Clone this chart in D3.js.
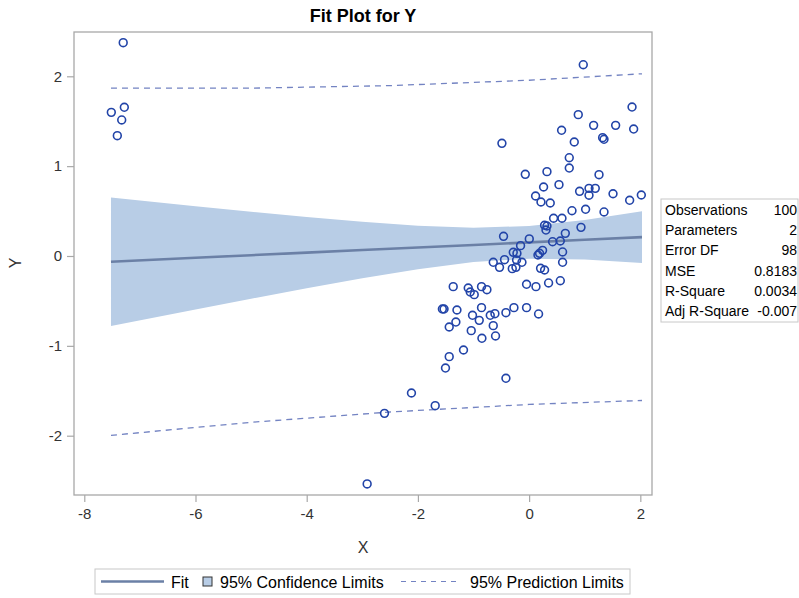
<!DOCTYPE html>
<html><head><meta charset="utf-8">
<script src="https://cdn.jsdelivr.net/npm/d3@7"></script>
<style>body{margin:0;background:#fff;} text{font-family:Arial,"Liberation Sans",sans-serif;}</style>
</head><body><svg id="c" width="799" height="598"></svg>
<script>
// observed points
const ptsX = [-7.30,-7.514,-7.28,-7.327,-7.406,
 -2.913,-2.601,-2.116,-1.689,-0.417,-1.504,-1.437,-1.18,-0.849,-0.604,-1.041,-0.645,-1.437,-1.317,-0.897,
 -1.018,-0.699,-0.615,-0.417,-0.273,-0.046,0.17,-1.56,-1.53,-1.298,-0.856,-1.365,-1.095,-1.059,-0.987,
 -0.856,-0.759,-0.046,0.123,0.35,0.561,-0.645,-0.532,-0.442,-0.303,-0.237,-0.129,-0.285,-0.219,-0.226,
 -0.154,0.159,0.188,0.242,0.206,0.278,0.602,0.602,0.422,0.561,0.003,
 0.974,1.851,0.884,1.16,1.556,1.88,0.584,1.322,1.347,0.812,-0.489,0.722,0.722,-0.069,0.321,1.257,0.26,
 0.537,0.116,0.213,0.38,0.908,1.077,1.19,1.077,1.509,1.808,2.018,0.771,1.016,1.347,0.44,0.591,0.278,
 0.321,0.303,0.933,-0.46,0.651];
const ptsY = [2.374,1.599,1.655,1.514,1.339,
 -2.537,-1.751,-1.525,-1.666,-1.361,-1.247,-1.12,-1.046,-0.916,-0.89,-0.831,-0.775,-0.79,-0.735,-0.716,
 -0.66,-0.66,-0.642,-0.631,-0.575,-0.575,-0.645,-0.59,-0.59,-0.601,-0.575,-0.341,-0.356,-0.401,-0.43,
 -0.341,-0.375,-0.315,-0.341,-0.3,-0.275,-0.07,-0.126,-0.041,-0.141,-0.126,-0.07,0.041,0.03,-0.045,
 0.115,0.011,0.03,0.063,-0.137,-0.156,0.045,-0.07,0.159,0.167,0.19,
 2.129,1.658,1.573,1.454,1.454,1.413,1.399,1.317,1.299,1.269,1.254,1.094,0.979,0.909,0.939,0.905,0.768,
 0.794,0.668,0.601,0.59,0.72,0.753,0.753,0.676,0.693,0.62,0.679,0.504,0.52,0.49,0.42,0.42,0.342,
 0.334,0.289,0.319,0.219,0.252];
// fit and limits read at several X positions
const bandX   = [-7.52,-6,-5,-4,-3,-2,-1,0,1,2.03];
const fitY    = [-0.064,-0.020,0.009,0.037,0.066,0.095,0.123,0.152,0.181,0.210];
const clLower = [-0.779,-0.595,-0.476,-0.360,-0.248,-0.147,-0.068,-0.030,-0.038,-0.077];
const clUpper = [0.651,0.555,0.493,0.434,0.380,0.337,0.314,0.334,0.400,0.497];
const plX     = [-7.52,-5,-2.5,0,2.03];
const plLower = [-1.996,-1.851,-1.736,-1.652,-1.608];
const plUpper = [1.868,1.868,1.896,1.956,2.028];
const xTicks = [-8,-6,-4,-2,0,2];
const yTicks = [-2,-1,0,1,2];
const statLabels = ["Observations","Parameters","Error DF","MSE","R-Square","Adj R-Square"];
const statValues = ["100","2","98","0.8183","0.0034","-0.007"];

const svg = d3.select("#c");
const L=74,R=652,T=32,B=495;
const x = d3.scaleLinear().domain([-8.185,2.21]).range([L,R]);
const y = d3.scaleLinear().domain([-2.66,2.493]).range([B,T]);

svg.append("text").attr("x",(L+R)/2).attr("y",22).attr("text-anchor","middle")
  .attr("font-size",18).attr("font-weight","bold").attr("fill","#000").text("Fit Plot for Y");

const band = bandX.map((v,i)=>({x:v,lo:clLower[i],hi:clUpper[i],f:fitY[i]}));
svg.append("path").datum(band).attr("fill","#B8CDE6")
  .attr("d",d3.area().x(d=>x(d.x)).y0(d=>y(d.lo)).y1(d=>y(d.hi)));
svg.append("path").datum(band).attr("fill","none").attr("stroke","#6B80A6").attr("stroke-width",2.6)
  .attr("d",d3.line().x(d=>x(d.x)).y(d=>y(d.f)));
const pl = plX.map((v,i)=>({x:v,lo:plLower[i],hi:plUpper[i]}));
["lo","hi"].forEach(k=>{
  svg.append("path").datum(pl).attr("fill","none").attr("stroke","#7383C2").attr("stroke-width",1.3)
    .attr("stroke-dasharray","6,5").attr("d",d3.line().x(d=>x(d.x)).y(d=>y(d[k])));
});
svg.append("g").selectAll("circle").data(ptsX.map((v,i)=>[v,ptsY[i]])).join("circle")
  .attr("cx",d=>x(d[0])).attr("cy",d=>y(d[1])).attr("r",3.9)
  .attr("fill","none").attr("stroke","#2244A8").attr("stroke-width",1.6);

svg.append("rect").attr("x",L).attr("y",T).attr("width",R-L).attr("height",B-T)
  .attr("fill","none").attr("stroke","#A8A8A8").attr("stroke-width",1.3);

const xa = svg.append("g").attr("transform",`translate(0,${B})`)
  .call(d3.axisBottom(x).tickValues(xTicks).tickSize(7).tickPadding(6).tickFormat(d3.format("d")));
const ya = svg.append("g").attr("transform",`translate(${L},0)`)
  .call(d3.axisLeft(y).tickValues(yTicks).tickSize(7).tickPadding(5).tickFormat(d3.format("d")));
[xa,ya].forEach(a=>{
  a.select(".domain").remove();
  a.selectAll("line").attr("stroke","#A8A8A8").attr("stroke-width",1.2);
  a.selectAll("text").attr("font-size",15).attr("fill","#333").attr("font-family","Arial,'Liberation Sans',sans-serif");
});
ya.selectAll("text").text(d=>d<0?"-"+Math.abs(d):d);
xa.selectAll("text").text(d=>d<0?"-"+Math.abs(d):d);

svg.append("text").attr("x",(L+R)/2).attr("y",553).attr("text-anchor","middle")
  .attr("font-size",16).attr("fill","#333").text("X");
svg.append("text").attr("transform","translate(21,263) rotate(-90)").attr("text-anchor","middle")
  .attr("font-size",16).attr("fill","#333").text("Y");

// stats table
const tb = svg.append("g");
tb.append("rect").attr("x",661).attr("y",199).attr("width",137).attr("height",123)
  .attr("fill","#fff").attr("stroke","#C8C8C8");
statLabels.forEach((s,i)=>{
  tb.append("text").attr("x",665).attr("y",215+i*20.2).attr("font-size",14).attr("fill","#000").text(s);
  tb.append("text").attr("x",797).attr("y",215+i*20.2).attr("font-size",14).attr("fill","#000")
    .attr("text-anchor","end").text(statValues[i]);
});

// legend
const lg = svg.append("g");
lg.append("rect").attr("x",95).attr("y",569).attr("width",535).attr("height",25)
  .attr("fill","#fff").attr("stroke","#C8C8C8");
lg.append("line").attr("x1",101).attr("x2",164).attr("y1",581.5).attr("y2",581.5)
  .attr("stroke","#6B80A6").attr("stroke-width",2.6);
lg.append("text").attr("x",171).attr("y",587.5).attr("font-size",16).attr("fill","#000").text("Fit");
lg.append("rect").attr("x",203).attr("y",577).attr("width",9).attr("height",9)
  .attr("fill","#B8CDE6").attr("stroke","#333").attr("stroke-width",1);
lg.append("text").attr("x",220).attr("y",587.5).attr("font-size",16).attr("fill","#000").text("95% Confidence Limits");
lg.append("line").attr("x1",401).attr("x2",458).attr("y1",581.5).attr("y2",581.5)
  .attr("stroke","#7383C2").attr("stroke-width",1.2).attr("stroke-dasharray","5,5");
lg.append("text").attr("x",470).attr("y",587.5).attr("font-size",16).attr("fill","#000").text("95% Prediction Limits");
</script></body></html>
